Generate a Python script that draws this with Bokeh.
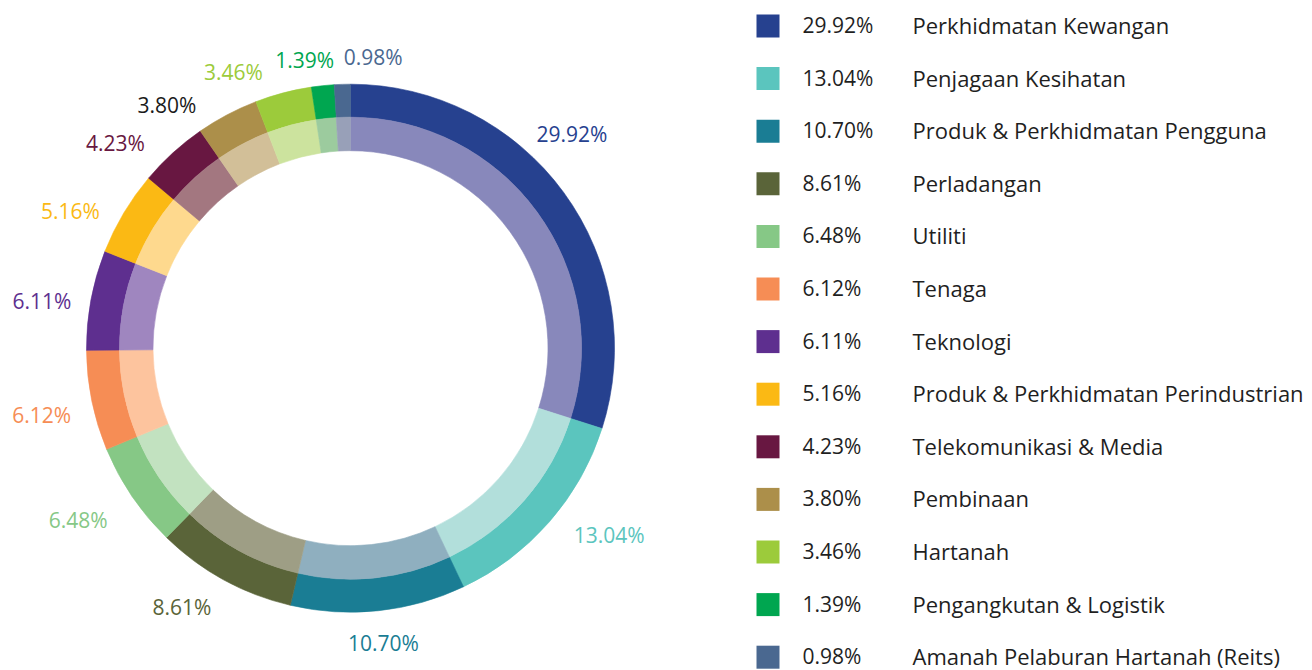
import math
from bokeh.plotting import figure
from bokeh.models import Range1d, ColumnDataSource
from bokeh.core.properties import value
from bokeh.embed import file_html
from bokeh.resources import INLINE

# ---- data ----
sectors = [
    "Perkhidmatan Kewangan",
    "Penjagaan Kesihatan",
    "Produk & Perkhidmatan Pengguna",
    "Perladangan",
    "Utiliti",
    "Tenaga",
    "Teknologi",
    "Produk & Perkhidmatan Perindustrian",
    "Telekomunikasi & Media",
    "Pembinaan",
    "Hartanah",
    "Pengangkutan & Logistik",
    "Amanah Pelaburan Hartanah (Reits)",
]
shares = [29.92, 13.04, 10.70, 8.61, 6.48, 6.12, 6.11, 5.16, 4.23, 3.80, 3.46, 1.39, 0.98]

# ---- styles ----
outer_colors = ["#26418f", "#5bc5be", "#1a7d94", "#5a6439", "#86c886", "#f68d55",
                "#5e2f8f", "#fbb914", "#681741", "#ac8f4a", "#9ccb3b", "#00a650", "#4a6890"]
inner_colors = ["#8888bb", "#b2dfdb", "#8fafbf", "#9e9e85", "#c2e2c0", "#fdc49e",
                "#9f86bf", "#fed98e", "#a37780", "#d2bf98", "#cce39e", "#9ccb9e", "#98a0b8"]
label_colors = ["#26418f", "#5bc5be", "#1a7d94", "#5a6439", "#86c886", "#f68d55",
                "#5e2f8f", "#fbb914", "#681741", "#1a1a1a", "#9ccb3b", "#00a650", "#4a6890"]
# label layout tweaks (degrees of angle shift, pixels of radius)
label_shift_deg = [-7.9, -5.4, -0.3, 4.4, 1.9, -0.7, -1.9, -4.7, -6.6, -9.2, -8.2, -3.0, 6.2]
label_radius = [308, 319, 297, 309, 322, 316, 312, 312, 312, 305, 300, 292, 292]

W, H = 1312, 670
FONT = "Open Sans"
TXT = "21px"
TXT_NAME = "22px"

p = figure(width=W, height=H, output_backend="svg", toolbar_location=None,
           x_range=Range1d(0, W), y_range=Range1d(0, H), min_border=0)
p.axis.visible = False
p.grid.visible = False
p.outline_line_color = None
p.background_fill_color = "white"
p.border_fill_color = "white"

# convert picture px (from top-left) to data
def sx(x):
    return x
def sy(y):
    return H - y

cx, cy = sx(350), sy(347.7)
R_OUT, R_MID, R_IN = 264, 231, 197.5

total = sum(shares)
starts, ends, mids = [], [], []
acc = 0.0
for v in shares:
    a0 = acc / total
    acc += v
    a1 = acc / total
    starts.append(math.pi / 2 - 2 * math.pi * a0)
    ends.append(math.pi / 2 - 2 * math.pi * a1)
    mids.append((a0 + a1) / 2 * 360.0)

src = ColumnDataSource(dict(start=starts, end=ends, oc=outer_colors, ic=inner_colors,
                            x=[cx] * len(shares), y=[cy] * len(shares)))
p.annular_wedge(x="x", y="y", inner_radius=R_MID, outer_radius=R_OUT,
                inner_radius_units="screen", outer_radius_units="screen",
                start_angle="start", end_angle="end", direction="clock",
                fill_color="oc", line_color="oc", line_width=0.6, source=src)
p.annular_wedge(x="x", y="y", inner_radius=R_IN, outer_radius=R_MID,
                inner_radius_units="screen", outer_radius_units="screen",
                start_angle="start", end_angle="end", direction="clock",
                fill_color="ic", line_color="ic", line_width=0.6, source=src)

# slice labels
lx, ly, lt = [], [], []
for i, v in enumerate(shares):
    ang = math.radians(mids[i] + label_shift_deg[i])
    r = label_radius[i]
    lx.append(cx + r * math.sin(ang))
    ly.append(cy + r * math.cos(ang))
    lt.append(f"{v:.2f}%")
p.text(x=lx, y=ly, text=lt, text_color=label_colors, text_font=value(FONT),
       text_font_size=TXT, text_align="center", text_baseline="middle")

# legend
row0, step = 25.5, 52.6
ry = [sy(row0 + step * i) for i in range(len(shares))]
p.rect(x=[sx(767.5)] * len(shares), y=ry, width=23, height=23,
       width_units="screen", height_units="screen",
       fill_color=outer_colors, line_color=None)
p.text(x=[sx(802)] * len(shares), y=[y + 1 for y in ry], text=[f"{v:.2f}%" for v in shares],
       text_color="#1f1f1f", text_font=value(FONT), text_font_size=TXT,
       text_align="left", text_baseline="middle")
p.text(x=[sx(912)] * len(shares), y=[y + 1 for y in ry], text=sectors,
       text_color="#1f1f1f", text_font=value(FONT), text_font_size=TXT_NAME,
       text_align="left", text_baseline="middle")

open("out.html", "w").write(file_html(p, INLINE))
